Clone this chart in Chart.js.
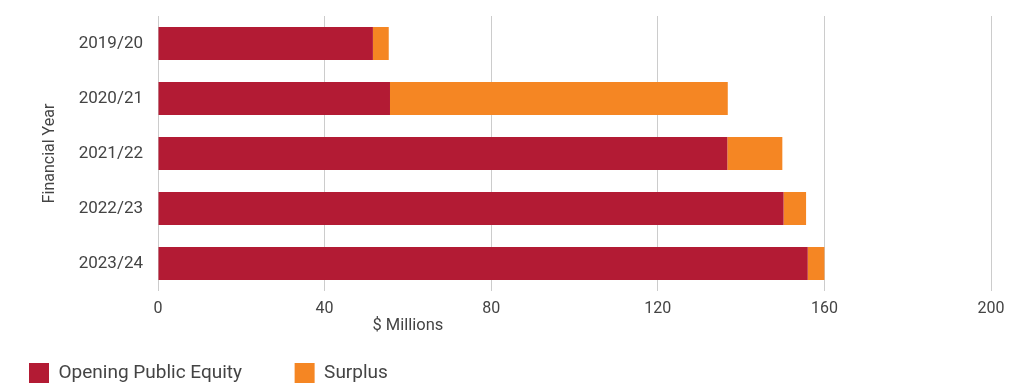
<!DOCTYPE html>
<html>
<head>
<meta charset="utf-8">
<script src="https://cdn.jsdelivr.net/npm/chart.js@4"></script>
<style>
  html, body { margin: 0; padding: 0; background: #fff; }
  #wrap { width: 1016px; height: 385px; }
</style>
</head>
<body>
<div id="wrap"><canvas id="myChart" width="1016" height="385"></canvas></div>
<script>
const years = ['2019/20', '2020/21', '2021/22', '2022/23', '2023/24'];
const openingEquity = [51.6, 55.7, 136.7, 150.2, 156.0];
const surplus = [3.8, 81.1, 13.2, 5.4, 4.0];
const xTicks = [0, 40, 80, 120, 160, 200];

const crimson = '#B31B34';
const orange = '#F58623';
const textGrey = '#444444';

// x axis title sits left of centre in the original, so draw it by hand
const axisTitle = {
    id: 'axisTitle',
    afterDraw(chart) {
        const c = chart.ctx;
        const x = chart.scales.x.getPixelForValue(60);
        c.save();
        c.font = '16.5px Roboto';
        c.fillStyle = textGrey;
        c.textAlign = 'center';
        c.textBaseline = 'middle';
        c.fillText('$ Millions', x, 326);
        c.restore();
    }
};

const ctx = document.getElementById('myChart').getContext('2d');
const myChart = new Chart(ctx, {
    type: 'bar',
    data: {
        labels: years,
        datasets: [{
            label: 'Opening Public Equity',
            data: openingEquity,
            backgroundColor: crimson,
            borderWidth: 0
        }, {
            label: 'Surplus',
            data: surplus,
            backgroundColor: orange,
            borderWidth: 0
        }]
    },
    options: {
        indexAxis: 'y',
        responsive: false,
        animation: false,
        categoryPercentage: 1,
        barPercentage: 0.6,
        layout: { padding: { top: 16, left: 0, right: 25, bottom: 0 } },
        scales: {
            x: {
                stacked: true,
                min: 0,
                max: 200,
                afterBuildTicks: (s) => { s.ticks = xTicks.map(v => ({ value: v })); },
                afterFit: (s) => { s.height = 43; },
                grid: { color: '#cccccc', lineWidth: 1, drawTicks: false },
                border: { display: false },
                ticks: { padding: 8, color: textGrey, font: { family: 'Roboto', size: 16 } }
            },
            y: {
                stacked: true,
                afterFit: (s) => {
                    s.width = 158;
                    s.paddingTop = 0;
                    s.paddingBottom = 0;
                },
                grid: { display: false, drawTicks: false },
                border: { display: false },
                ticks: { padding: 15, color: textGrey, font: { family: 'Roboto', size: 17 } },
                title: {
                    display: true,
                    text: 'Financial Year',
                    color: textGrey,
                    font: { family: 'Roboto', size: 16 },
                    padding: { top: 40, bottom: 0 }
                }
            }
        },
        plugins: {
            tooltip: { enabled: false },
            legend: {
                position: 'bottom',
                align: 'start',
                maxHeight: 51,
                labels: {
                    boxWidth: 20,
                    boxHeight: 20,
                    padding: 29,
                    color: textGrey,
                    font: { family: 'Roboto', size: 19 },
                    generateLabels: (chart) => {
                        const items = Chart.defaults.plugins.legend.labels.generateLabels(chart);
                        // widen first entry so the second one starts where it does in the original
                        items[0].text = items[0].text + '     ';
                        items.forEach(i => { i.lineWidth = 0; });
                        return items;
                    }
                }
            }
        }
    },
    plugins: [axisTitle]
});
</script>
</body>
</html>
